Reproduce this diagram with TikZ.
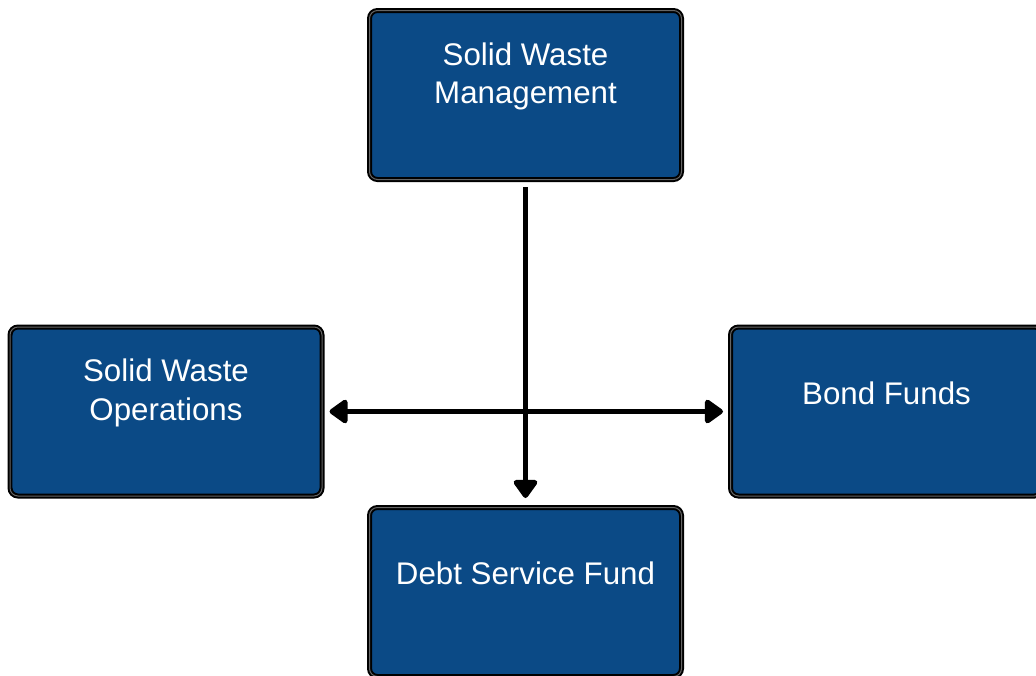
\documentclass[tikz,border=0pt]{standalone}
\usepackage{fontspec}
\setmainfont{Liberation Sans}
\usetikzlibrary{arrows.meta}
\definecolor{fundblue}{RGB}{11,74,134}
\begin{document}
\begin{tikzpicture}[line width=0.1cm, >={Triangle[length=0.4cm, width=0.54cm, round]}]
	\tikzstyle{box} = [shape=rectangle, rounded corners=0.16cm, draw=black, line width=0.04cm, double=black!60, double distance=0.02cm, fill=fundblue, minimum width=6.24cm, minimum height=3.38cm, outer sep=0.15cm]
	\tikzstyle{txt} = [text=white, align=center, font=\fontsize{17.8}{22}\selectfont, yshift=0.37cm]
	\tikzstyle{conn} = [black, line width=0.1cm]
	\useasboundingbox (0,0) rectangle (20.72,-13.5);
	\clip (0,0) rectangle (20.72,-13.5);
	\node[box, label={[txt]center:Solid Waste\\Management}] (swm) at (10.51,-1.9) {};
	\node[box, label={[txt]center:Solid Waste\\Operations}] (swo) at (3.32,-8.23) {};
	\node[box, label={[txt]center:Bond Funds}] (bf) at (17.73,-8.23) {};
	\node[box, label={[txt]center:Debt Service Fund}] (dsf) at (10.51,-11.84) {};
	\draw[conn, ->, shorten >=0.04cm] (swm) -- (dsf);
	\draw[conn, <->] (swo) -- (bf);
\end{tikzpicture}
\end{document}
